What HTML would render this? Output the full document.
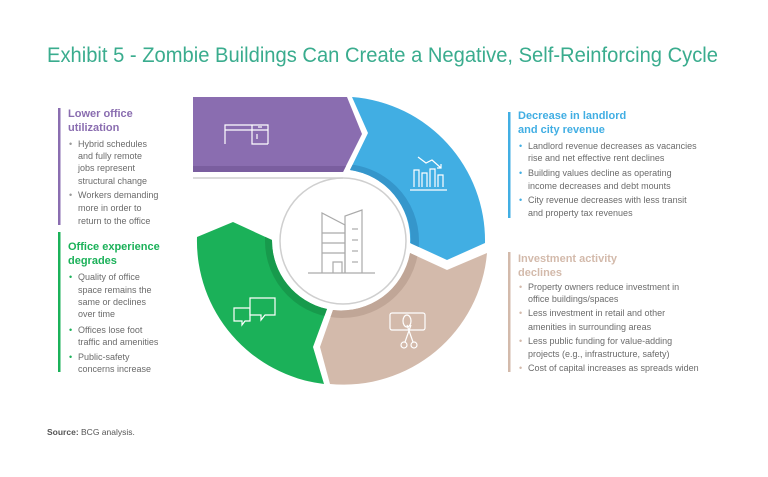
<!DOCTYPE html>
<html><head><meta charset="utf-8"><style>
html,body{margin:0;padding:0;background:#fff;}
svg{display:block;}
text{font-family:"Liberation Sans",sans-serif;}
.t{font-size:11px;font-weight:bold;}
.b{font-size:9px;fill:#6b6b6b;}
</style></head><body>
<svg width="768" height="477" viewBox="0 0 768 477" xmlns="http://www.w3.org/2000/svg">
<rect width="768" height="477" fill="#fff"/>
<text x="47" y="62" font-size="21" fill="#3AAC8E" textLength="671" lengthAdjust="spacingAndGlyphs">Exhibit 5 - Zombie Buildings Can Create a Negative, Self-Reinforcing Cycle</text>

<defs>
<clipPath id="cb"><path d="M352,97 A144,144 0 0 1 485,243 L447,260 L410,243 A70,70 0 0 0 350,170 L368,133 Z"/></clipPath>
<clipPath id="ct"><path d="M487,253 A144,144 0 0 1 330,384 L320,347 L333,310 A70,70 0 0 0 410,253 L447,270 Z"/></clipPath>
<clipPath id="cg"><path d="M324,384 A144,144 0 0 1 197,237 L233,222 L272,240 A70,70 0 0 0 327,309 L313,347 Z"/></clipPath>
</defs>

<path d="M193,97 L347,97 L362,134 L343,172 L193,172 Z" fill="#8A6DB0"/>
<path d="M193,166 L346,166 L343,172 L193,172 Z" fill="#7A5E9F"/>
<path d="M352,97 A144,144 0 0 1 485,243 L447,260 L410,243 A70,70 0 0 0 350,170 L368,133 Z" fill="#41AEE3"/>
<circle cx="342" cy="241" r="73" fill="none" stroke="#3596CB" stroke-width="8" clip-path="url(#cb)"/>
<path d="M487,253 A144,144 0 0 1 330,384 L320,347 L333,310 A70,70 0 0 0 410,253 L447,270 Z" fill="#D3BAAB"/>
<circle cx="342" cy="241" r="73" fill="none" stroke="#C0A697" stroke-width="8" clip-path="url(#ct)"/>
<path d="M324,384 A144,144 0 0 1 197,237 L233,222 L272,240 A70,70 0 0 0 327,309 L313,347 Z" fill="#1BB159"/>
<circle cx="342" cy="241" r="73" fill="none" stroke="#179A4C" stroke-width="8" clip-path="url(#cg)"/>

<line x1="193" y1="178" x2="343" y2="178" stroke="#cfcfcf" stroke-width="1.5"/>
<circle cx="343" cy="241" r="63" fill="none" stroke="#cfcfcf" stroke-width="1.5"/>

<g fill="none" stroke="#aaa" stroke-width="1.2">
<line x1="308" y1="273" x2="375" y2="273"/>
<path d="M322,273 V213 L345,225 V273"/>
<path d="M345,273 V216 L362,210 V273"/>
<line x1="322" y1="233" x2="345" y2="233"/><line x1="322" y1="243" x2="345" y2="243"/><line x1="322" y1="253" x2="345" y2="253"/>
<path d="M333,273 V262 H342 V273"/>
<line x1="352" y1="229" x2="358" y2="229"/><line x1="352" y1="240" x2="358" y2="240"/><line x1="352" y1="251" x2="358" y2="251"/><line x1="352" y1="262" x2="358" y2="262"/>
</g>
<g fill="none" stroke="#fff" stroke-width="1.2">
<path d="M225,144 V125 H268 V144"/><line x1="225" y1="130" x2="268" y2="130"/>
<path d="M252,125 V144 H268"/><line x1="258" y1="127" x2="262" y2="127"/><line x1="257" y1="134" x2="257" y2="139"/>
</g>
<g fill="none" stroke="#fff" stroke-width="1.2">
<line x1="410" y1="190" x2="447" y2="190"/>
<path d="M414,187 V170 H419 V187"/><path d="M422,187 V173 H427 V187"/><path d="M430,187 V169 H435 V187"/><path d="M438,187 V175 H443 V187"/>
<path d="M418,157 L426,163 L432,160 L441,168"/><path d="M437,168 H441 V164"/>
</g>
<g fill="none" stroke="#fff" stroke-width="1.2">
<rect x="390" y="313" width="35" height="17" rx="2"/>
<ellipse cx="407" cy="321" rx="4" ry="6"/>
<circle cx="404" cy="345" r="3"/><circle cx="414" cy="345" r="3"/>
<line x1="405" y1="342" x2="411" y2="325"/><line x1="413" y1="342" x2="407" y2="325"/>
</g>
<g fill="none" stroke="#fff" stroke-width="1.2">
<path d="M234,308 H250 V321 H245 L242,325 V321 H234 Z"/>
<path d="M250,298 H275 V315 H265 L261,320 V315 H250 Z" fill="#1BB159"/>
</g>

<rect x="58" y="108" width="2.5" height="117" fill="#8A6DB0"/>
<text class="t" fill="#8A6DB0"><tspan x="68" y="117">Lower office</tspan><tspan x="68" y="131">utilization</tspan></text>
<g class="b">
<text x="69" y="147" fill="#999">•</text>
<text x="78" y="147">Hybrid schedules</text><text x="78" y="159">and fully remote</text><text x="78" y="171">jobs represent</text><text x="78" y="184">structural change</text>
<text x="69" y="198" fill="#999">•</text>
<text x="78" y="198">Workers demanding</text><text x="78" y="211">more in order to</text><text x="78" y="224">return to the office</text>
</g>
<rect x="58" y="232" width="2.5" height="140" fill="#1BB159"/>
<text class="t" fill="#1BB159"><tspan x="68" y="250">Office experience</tspan><tspan x="68" y="264">degrades</tspan></text>
<g class="b">
<text x="69" y="280" fill="#1BB159">•</text>
<text x="78" y="280">Quality of office</text><text x="78" y="293">space remains the</text><text x="78" y="305">same or declines</text><text x="78" y="317">over time</text>
<text x="69" y="333" fill="#1BB159">•</text>
<text x="78" y="333">Offices lose foot</text><text x="78" y="345">traffic and amenities</text>
<text x="69" y="360" fill="#1BB159">•</text>
<text x="78" y="360">Public-safety</text><text x="78" y="372">concerns increase</text>
</g>

<rect x="508" y="112" width="2.5" height="106" fill="#41AEE3"/>
<text class="t" fill="#41AEE3"><tspan x="518" y="119">Decrease in landlord</tspan><tspan x="518" y="133">and city revenue</tspan></text>
<g class="b">
<text x="519" y="149" fill="#41AEE3">•</text>
<text x="528" y="149">Landlord revenue decreases as vacancies</text><text x="528" y="161">rise and net effective rent declines</text>
<text x="519" y="176" fill="#41AEE3">•</text>
<text x="528" y="176">Building values decline as operating</text><text x="528" y="189">income decreases and debt mounts</text>
<text x="519" y="203" fill="#41AEE3">•</text>
<text x="528" y="203">City revenue decreases with less transit</text><text x="528" y="216">and property tax revenues</text>
</g>
<rect x="508" y="252" width="2.5" height="120" fill="#D3BAAB"/>
<text class="t" fill="#D3BAAB"><tspan x="518" y="262">Investment activity</tspan><tspan x="518" y="276">declines</tspan></text>
<g class="b">
<text x="519" y="290" fill="#D3BAAB">•</text>
<text x="528" y="290">Property owners reduce investment in</text><text x="528" y="302">office buildings/spaces</text>
<text x="519" y="316" fill="#D3BAAB">•</text>
<text x="528" y="316">Less investment in retail  and other</text><text x="528" y="330">amenities in surrounding areas</text>
<text x="519" y="344" fill="#D3BAAB">•</text>
<text x="528" y="344">Less public funding for value-adding</text><text x="528" y="357">projects (e.g., infrastructure, safety)</text>
<text x="519" y="371" fill="#D3BAAB">•</text>
<text x="528" y="371">Cost of capital increases as spreads widen</text>
</g>

<text x="47" y="435" font-size="8.5" fill="#555"><tspan font-weight="bold">Source:</tspan> BCG analysis.</text>
</svg>
</body></html>
